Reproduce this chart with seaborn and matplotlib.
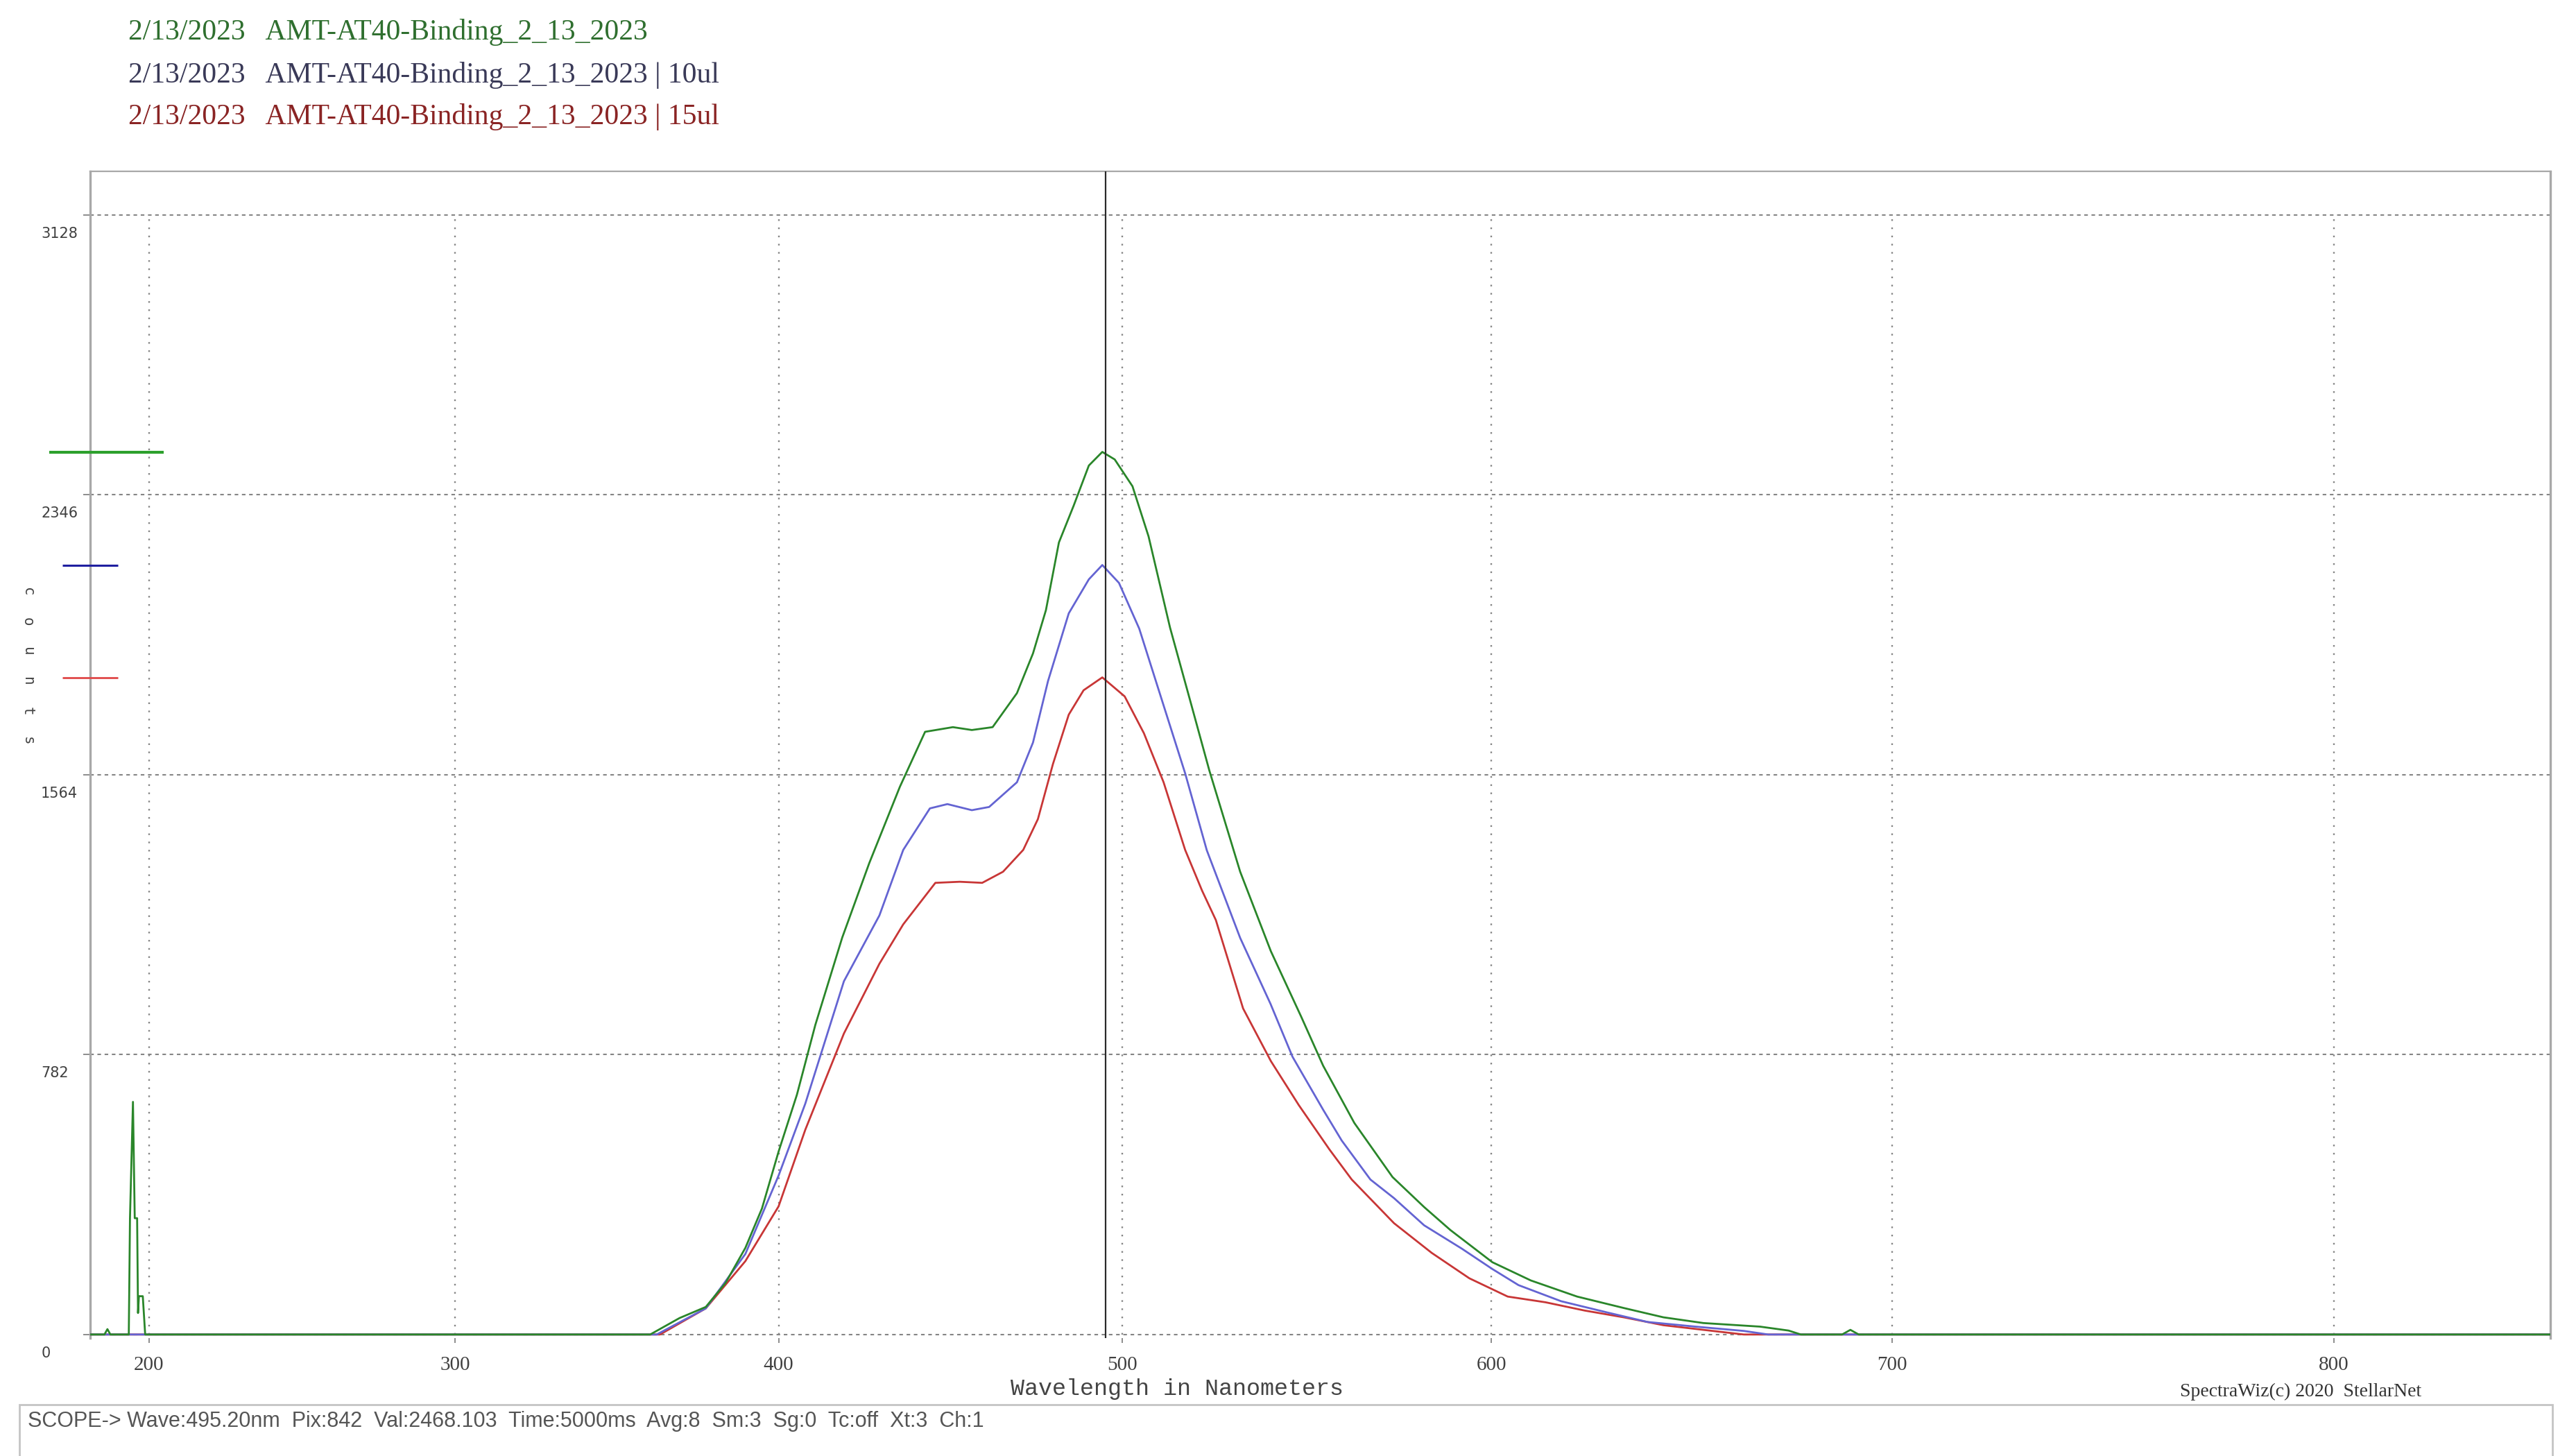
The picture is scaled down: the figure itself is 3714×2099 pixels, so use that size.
import numpy as np
import pandas as pd
import matplotlib
matplotlib.use("Agg")
import matplotlib.pyplot as plt
import matplotlib.transforms as mtransforms
from matplotlib.patches import Rectangle
import seaborn as sns


# Traces (wavelength in nm, counts)
green_nm = [180.2, 185.0, 186.0, 187.0, 193.2, 193.6, 194.6, 195.2, 196.0, 196.3, 196.6, 197.9, 198.7,
            361, 370, 378, 384, 390, 395, 400, 405.5, 411, 419, 427, 436, 443.4, 451.5, 457, 463,
            470, 474.6, 478.3, 482, 486.2, 490.5, 494.3, 497.8, 502.8, 507.3, 513.3, 519.2, 524.2,
            532.7, 541.1, 549.4, 555.3, 563.7, 573.9, 582.3, 589.2, 600.2, 610.2, 622.1, 634, 644,
            654, 668, 675, 678, 688, 690, 692, 845]
green_counts = [0, 0, 15, 0, 0, 325, 650, 325, 325, 60, 107, 107, 0,
                0, 46, 77, 144, 242, 352, 511, 670, 865, 1109, 1317, 1530, 1684, 1697, 1689, 1697,
                1792, 1903, 2024, 2213, 2316, 2428, 2466, 2445, 2370, 2230, 1975, 1760, 1576,
                1293, 1071, 887, 751, 591, 440, 356, 292, 202, 151, 106, 74, 48,
                32, 22, 11, 0, 0, 13, 0, 0]

blue_nm = [180.2, 363, 378, 390, 400, 408, 419.5, 430, 437, 444.8, 449.9, 457, 462, 470, 474.6,
           478.9, 484.8, 490.5, 494.3, 499, 504.7, 510.7, 517.5, 523.5, 532.7, 541, 547, 555.3,
           560.3, 568, 574.3, 582.3, 592.2, 600.2, 607, 618, 630, 640, 652, 664, 670, 845]
blue_counts = [0, 0, 73, 225, 444, 645, 987, 1171, 1354, 1470, 1482, 1465, 1474, 1543, 1654,
               1826, 2015, 2110, 2150, 2100, 1972, 1783, 1568, 1353, 1108, 924, 776, 628,
               542, 433, 381, 305, 240, 183, 138, 93, 61, 35, 22, 10, 0, 0]

red_nm = [180.2, 364, 378, 390, 400, 408, 419.5, 430, 437, 446.4, 453.5, 460, 466, 471.8, 476,
          480.3, 484.8, 489, 494.3, 500.6, 506, 511.5, 517.5, 522.2, 526, 533.5, 541.1, 548.7,
          557, 563, 574.3, 584.3, 594.2, 604.2, 614, 624, 634, 644, 654, 664, 845]
red_counts = [0, 0, 73, 205, 358, 572, 841, 1036, 1146, 1262, 1265, 1262, 1293, 1354, 1440,
              1594, 1732, 1800, 1836, 1783, 1680, 1543, 1354, 1240, 1158, 911, 764, 641,
              517, 433, 311, 228, 157, 106, 90, 67, 48, 26, 13, 0, 0]

scan_date = "2/13/2023"
trace_names = ["AMT-AT40-Binding_2_13_2023",
               "AMT-AT40-Binding_2_13_2023 | 10ul",
               "AMT-AT40-Binding_2_13_2023 | 15ul"]
x_ticks = [200, 300, 400, 500, 600, 700, 800]
y_ticks = [0, 782, 1564, 2346, 3128]
cursor_nm = 495.20
status_line = ("SCOPE-> Wave:495.20nm  Pix:842  Val:2468.103  Time:5000ms  "
               "Avg:8  Sm:3  Sg:0  Tc:off  Xt:3  Ch:1")

# detector calibration: wavelength = c0 + c1*pix + c2*pix^2, 2048 pixel array
c0, c1, c2 = 180.17, 0.40671, -4.0017e-5
n_pix = 2048

line_colors = {trace_names[0]: "#2a862a", trace_names[1]: "#6464d2", trace_names[2]: "#c83636"}
marker_colors = ["#2ca02c", "#1f1fa0", "#e04848"]
text_colors = ["#2f6f2f", "#3a3a58", "#8a2424"]


def pix_to_wl(p):
    p = np.asarray(p, dtype=float)
    return c0 + c1 * p + c2 * p ** 2


def wl_to_pix(w):
    w = np.asarray(w, dtype=float)
    disc = np.clip(c1 ** 2 + 4 * c2 * (w - c0), 1e-12, None)
    return (-c1 + np.sqrt(disc)) / (2 * c2)


frames = []
for name, nm, cnt in [(trace_names[0], green_nm, green_counts),
                      (trace_names[1], blue_nm, blue_counts),
                      (trace_names[2], red_nm, red_counts)]:
    frames.append(pd.DataFrame({"nm": nm, "counts": cnt, "trace": name}))
df = pd.concat(frames, ignore_index=True)

sns.set_style("white")
plt.rcParams["font.family"] = ["DejaVu Sans"]

W, H = 3714, 2099
fig = plt.figure(figsize=(W / 100, H / 100), dpi=100)
ax = fig.add_axes([130 / W, (H - 1929) / H, (3677 - 130) / W, (1929 - 247) / H])

# red first, green last so green sits on top like the scope screen
sns.lineplot(data=df, x="nm", y="counts", hue="trace",
             hue_order=[trace_names[2], trace_names[1], trace_names[0]],
             palette=line_colors, sort=False, estimator=None, legend=False,
             linewidth=2.0, ax=ax, zorder=3)

ax.set_xscale("function", functions=(wl_to_pix, pix_to_wl))
ax.set_xlim(float(pix_to_wl(0)), float(pix_to_wl(n_pix - 1)))
ax.set_ylim(-10, 3250)

ax.set_xticks(x_ticks)
ax.set_xticklabels([str(t) for t in x_ticks])
ax.set_yticks(y_ticks)
ax.set_yticklabels([str(t) for t in y_ticks])
ax.minorticks_off()
ax.set_xlabel("")
ax.set_ylabel("")

# grid: dashed horizontals, dotted verticals stopping at the top grid line
ax.yaxis.grid(True, linestyle=(0, (2.5, 2.5)), color="#858585", linewidth=1.5, zorder=1)
ax.xaxis.grid(False)
ax.vlines(x_ticks, y_ticks[0], y_ticks[-1], colors="#858585",
          linestyles=(0, (1, 4)), linewidth=1.7, zorder=1)

for side in ["left", "right", "top"]:
    ax.spines[side].set_color("#a8a8a8")
ax.spines["left"].set_linewidth(2.4)
ax.spines["right"].set_linewidth(2.4)
ax.spines["top"].set_linewidth(1.6)
ax.spines["bottom"].set_visible(False)

ax.tick_params(axis="x", length=5, width=1.4, color="#8c8c8c", pad=14,
               labelsize=21, labelcolor="#404040", bottom=True)
ax.tick_params(axis="y", length=7, width=1.4, color="#8c8c8c", pad=44,
               labelsize=15, labelcolor="#404040", left=True)
for lab in ax.get_xticklabels():
    lab.set_fontfamily("Liberation Serif")
shift = mtransforms.ScaledTranslation(0, -18 / 72, fig.dpi_scale_trans)
for lab in ax.get_yticklabels():
    lab.set_horizontalalignment("left")
    lab.set_transform(lab.get_transform() + shift)

# cursor line
ax.axvline(cursor_nm, color="#2a2a2a", linewidth=1.6, zorder=5)

# peak level markers on the left axis
blend = mtransforms.blended_transform_factory(ax.transAxes, ax.transData)
peaks = [max(green_counts), max(blue_counts), max(red_counts)]
ax.plot([-0.0166, 0.030], [peaks[0], peaks[0]], transform=blend, clip_on=False,
        color=marker_colors[0], linewidth=3.0, solid_capstyle="butt", zorder=6)
ax.plot([-0.0113, 0.0113], [peaks[1], peaks[1]], transform=blend, clip_on=False,
        color=marker_colors[1], linewidth=2.2, solid_capstyle="butt", zorder=6)
ax.plot([-0.0113, 0.0113], [peaks[2], peaks[2]], transform=blend, clip_on=False,
        color=marker_colors[2], linewidth=2.0, solid_capstyle="butt", zorder=6)

# legend lines at the top
for i, (name, y) in enumerate(zip(trace_names, [47, 109, 168])):
    fig.text(185 / W, 1 - y / H, f"{scan_date}   {name}", color=text_colors[i],
             fontsize=30, family="Liberation Serif", va="center", ha="left")

# stacked y label
for i, ch in enumerate("counts"):
    fig.text(40 / W, 1 - (853 + 43 * i) / H, ch, rotation=-90, fontsize=15,
             family="DejaVu Sans Mono", color="#444444", ha="center", va="center")

fig.text(1697 / W, 1 - 2003 / H, "Wavelength in Nanometers", fontsize=24,
         family="Liberation Mono", color="#444444", ha="center", va="center")
fig.text(3143 / W, 1 - 2006 / H, "SpectraWiz(c) 2020  StellarNet", fontsize=20,
         family="Liberation Serif", color="#333333", ha="left", va="center")

# status bar
fig.patches.append(Rectangle((28 / W, -0.01), (3680 - 28) / W, (H - 2025) / H + 0.01,
                             transform=fig.transFigure, fill=False,
                             edgecolor="#c4c4c4", linewidth=2.0))
fig.text(40 / W, 1 - 2049 / H, status_line, fontsize=22, family="Liberation Sans",
         color="#555555", ha="left", va="center")

fig.savefig("out.png", dpi=100, facecolor="white")
